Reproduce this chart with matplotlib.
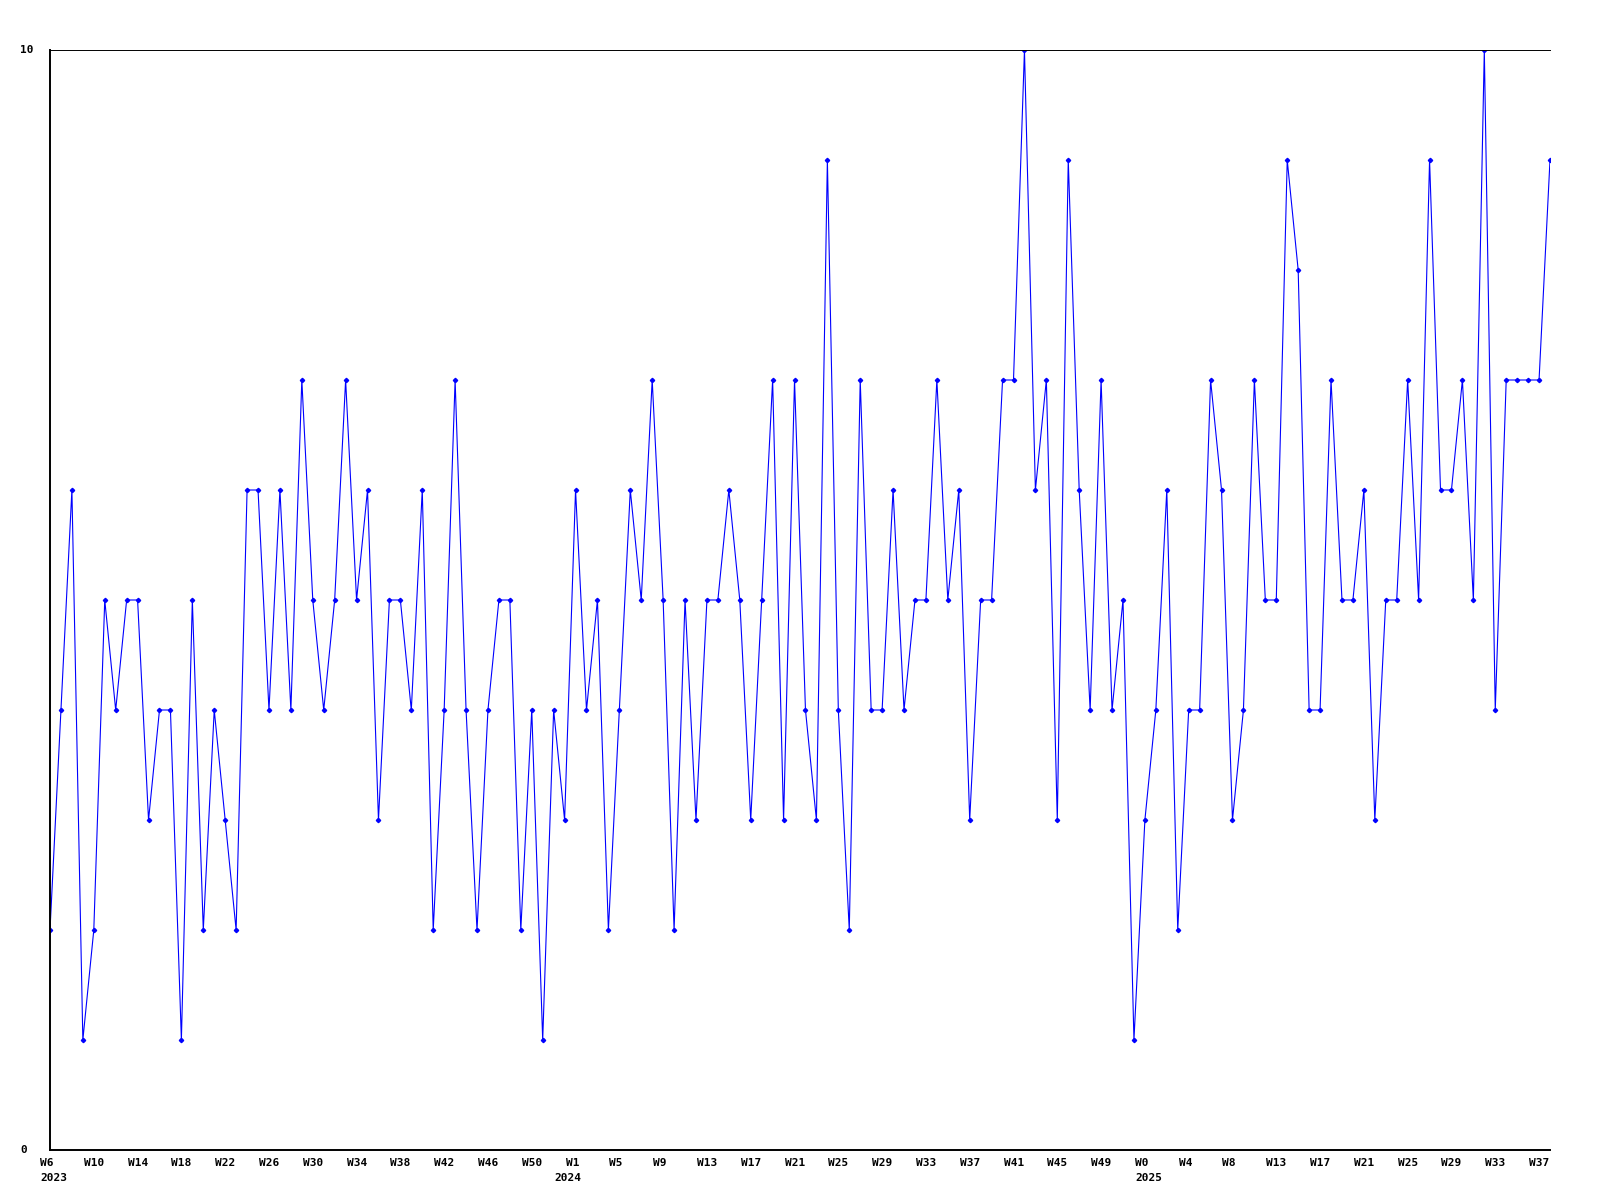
import matplotlib
matplotlib.use("Agg")
import matplotlib.pyplot as plt
from matplotlib.transforms import ScaledTranslation

# weekly values, 2023 W6 .. 2025 W38
values = [2, 4, 6, 1, 2, 5, 4, 5, 5, 3, 4, 4, 1, 5, 2, 4, 3, 2, 6, 6,
          4, 6, 4, 7, 5, 4, 5, 7, 5, 6, 3, 5, 5, 4, 6, 2, 4, 7, 4, 2,
          4, 5, 5, 2, 4, 1, 4, 3, 6, 4, 5, 2, 4, 6, 5, 7, 5, 2, 5, 3,
          5, 5, 6, 5, 3, 5, 7, 3, 7, 4, 3, 9, 4, 2, 7, 4, 4, 6, 4, 5,
          5, 7, 5, 6, 3, 5, 5, 7, 7, 10, 6, 7, 3, 9, 6, 4, 7, 4, 5, 1,
          3, 4, 6, 2, 4, 4, 7, 6, 3, 4, 7, 5, 5, 9, 8, 4, 4, 7, 5, 5,
          6, 3, 5, 5, 7, 5, 9, 6, 6, 7, 5, 10, 4, 7, 7, 7, 7, 9]

week_ticks = list(range(0, 137, 4))
week_labels = ["W6", "W10", "W14", "W18", "W22", "W26", "W30", "W34", "W38",
               "W42", "W46", "W50",
               "W1", "W5", "W9", "W13", "W17", "W21", "W25", "W29", "W33",
               "W37", "W41", "W45", "W49",
               "W0", "W4", "W8", "W13", "W17", "W21", "W25", "W29", "W33", "W37"]
year_ticks = [0, 47, 100]
year_labels = ["2023", "2024", "2025"]

fig = plt.figure(figsize=(16, 12), dpi=100)
ax = fig.add_axes([50 / 1600, 50 / 1200, 1500 / 1600, 1100 / 1200])

x = list(range(len(values)))
ax.plot(x, values, color="#0000ff", lw=0.8, marker="D", ms=2.2,
        mec="#0000ff", mfc="#0000ff")

ax.set_xlim(0, len(values) - 1)
ax.set_ylim(0, 10)

ax.spines["right"].set_visible(False)
ax.spines["left"].set_linewidth(1.4)
ax.spines["bottom"].set_linewidth(1.4)
ax.spines["top"].set_linewidth(0.7)

ax.set_xticks([])
ax.set_yticks([])

font = dict(family="DejaVu Sans Mono", weight="bold", size=8)

# x labels: left aligned, starting 10px before the week position
off = ScaledTranslation(-10 / 100, -8 / 100, fig.dpi_scale_trans)
for pos, lab in zip(week_ticks, week_labels):
    ax.text(pos, 0, lab, transform=ax.get_xaxis_transform() + off,
            ha="left", va="top", **font)
off2 = ScaledTranslation(-10 / 100, -23 / 100, fig.dpi_scale_trans)
for pos, lab in zip(year_ticks, year_labels):
    ax.text(pos, 0, lab, transform=ax.get_xaxis_transform() + off2,
            ha="left", va="top", **font)

# y labels
yoff = ScaledTranslation(-30 / 100, 0, fig.dpi_scale_trans)
for v in [0, 10]:
    ax.text(0, v, str(v), transform=ax.get_yaxis_transform() + yoff,
            ha="left", va="center", **font)

fig.savefig("out.png", dpi=100)
